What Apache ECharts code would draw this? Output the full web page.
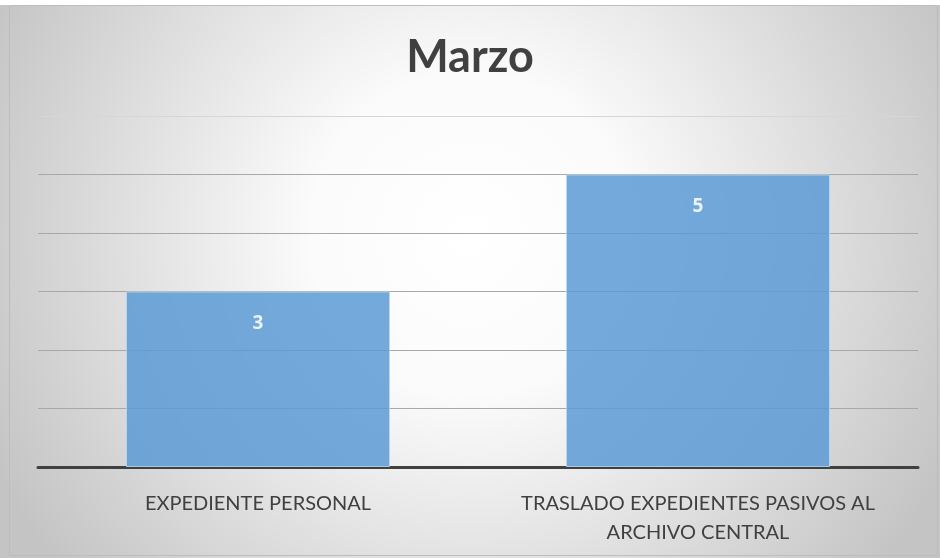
<!DOCTYPE html>
<html>
<head>
<meta charset="utf-8">
<script src="https://cdn.jsdelivr.net/npm/echarts@6/dist/echarts.min.js"></script>
<style>
  html, body { margin: 0; padding: 0; background: #fff; }
  #chart { width: 940px; height: 558px; }
</style>
</head>
<body>
<div id="chart"></div>
<script>
const title = "Marzo";
const categories = [
  "EXPEDIENTE PERSONAL",
  "TRASLADO EXPEDIENTES PASIVOS AL\nARCHIVO CENTRAL",
];
const values = [3, 5];
const yMin = 0;
const yMax = 6;
const yStep = 1;

const myChart = echarts.init(document.getElementById("chart"));

const option = {
  backgroundColor: {
    type: "radial",
    x: 0.5,
    y: 0.42,
    r: 0.95,
    colorStops: [
      { offset: 0, color: "#ffffff" },
      { offset: 0.3, color: "#fbfbfb" },
      { offset: 1, color: "#c4c4c4" },
    ],
  },
  graphic: [
    {
      type: "rect",
      shape: { x: 0, y: 0, width: 940, height: 5 },
      style: { fill: "#ffffff" },
      silent: true,
    },
    {
      type: "rect",
      shape: { x: 9.5, y: 5.5, width: 928, height: 550 },
      style: { fill: "none", stroke: "#bdbdbd", lineWidth: 1 },
      silent: true,
    },
  ],
  title: {
    text: title,
    left: "center",
    top: 30,
    textStyle: {
      fontFamily: "Lato",
      fontSize: 45,
      fontWeight: "bold",
      color: "#404040",
    },
  },
  grid: {
    left: 38,
    right: 22,
    top: 116,
    bottom: 91,
    containLabel: false,
  },
  xAxis: {
    type: "category",
    data: categories,
    axisLine: { lineStyle: { color: "#404040", width: 3 } },
    axisTick: { show: false },
    axisLabel: {
      fontFamily: "Lato",
      fontSize: 20,
      color: "#404040",
      margin: 22,
      lineHeight: 29,
      interval: 0,
    },
  },
  yAxis: {
    type: "value",
    min: yMin,
    max: yMax,
    interval: yStep,
    axisLine: { show: false },
    axisTick: { show: false },
    axisLabel: { show: false },
    splitLine: {
      lineStyle: {
        color: ["#a8a8a8", "#a8a8a8", "#a8a8a8", "#a8a8a8", "#a8a8a8", "#a8a8a8", "#d6d6d6"],
        width: 1,
      },
    },
  },
  series: [
    {
      type: "bar",
      data: values,
      barWidth: "60%",
      itemStyle: {
        color: "#5b9bd5",
        opacity: 0.85,
        borderColor: "#bcd7f0",
        borderWidth: 1,
      },
      label: {
        show: true,
        position: "insideTop",
        distance: 23,
        fontFamily: "Noto Sans",
        fontSize: 19,
        fontWeight: "bold",
        color: "#ffffff",
      },
    },
  ],
};

myChart.setOption(option);
</script>
</body>
</html>
